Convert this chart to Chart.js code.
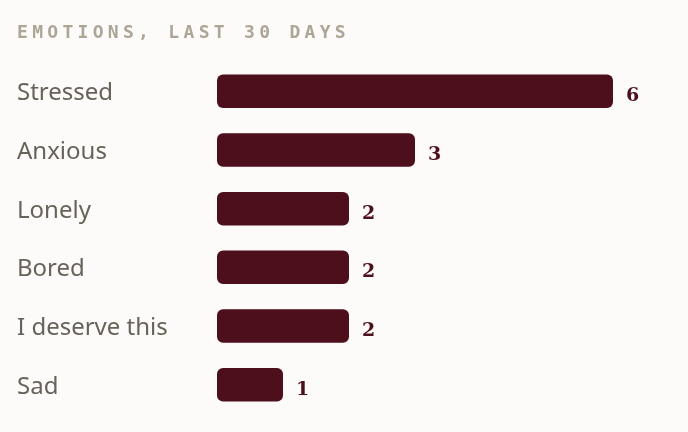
<!DOCTYPE html>
<html>
<head>
<meta charset="utf-8">
<script src="https://cdn.jsdelivr.net/npm/chart.js@4"></script>
<style>
  html, body { margin: 0; padding: 0; background: #fdfbf9; }
  #wrap { position: relative; width: 688px; height: 432px; }
  #title {
    position: absolute; left: 17px; top: 21px;
    font-family: "DejaVu Sans Mono", monospace; font-weight: bold;
    font-size: 18px; letter-spacing: 4.3px; color: #ada596;
  }
</style>
</head>
<body>
<div id="wrap">
  <div id="title">EMOTIONS, LAST 30 DAYS</div>
  <canvas id="myChart" width="688" height="432"></canvas>
</div>
<script>
var emotions = ['Stressed', 'Anxious', 'Lonely', 'Bored', 'I deserve this', 'Sad'];
var counts = [6, 3, 2, 2, 2, 1];

var barColor = '#4d0f1c';

// draws the count just right of each bar
var valueLabels = {
    id: 'valueLabels',
    afterDatasetsDraw: function (chart) {
        var ctx = chart.ctx;
        var meta = chart.getDatasetMeta(0);
        ctx.save();
        ctx.fillStyle = barColor;
        ctx.font = 'bold 19px "DejaVu Serif", serif';
        ctx.textAlign = 'left';
        ctx.textBaseline = 'alphabetic';
        meta.data.forEach(function (bar, i) {
            ctx.fillText(String(counts[i]), bar.x + 13, bar.y + 10);
        });
        ctx.restore();
    }
};

function renderChart(data, labels) {
    var ctx = document.getElementById('myChart').getContext('2d');
    return new Chart(ctx, {
        type: 'bar',
        data: {
            labels: labels,
            datasets: [{
                data: data,
                backgroundColor: barColor,
                borderRadius: 6,
                borderSkipped: false,
                barPercentage: 0.57,
                categoryPercentage: 1
            }]
        },
        options: {
            indexAxis: 'y',
            responsive: false,
            animation: false,
            layout: { padding: { left: 17, right: 75, top: 62, bottom: 18 } },
            plugins: {
                legend: { display: false },
                tooltip: { enabled: false }
            },
            scales: {
                x: { display: false, min: 0, max: 6 },
                y: {
                    grid: { display: false, drawTicks: false },
                    border: { display: false },
                    afterFit: function (scale) { scale.width = 200; },
                    ticks: {
                        crossAlign: 'far',
                        padding: 0,
                        labelOffset: 2,
                        color: '#67625a',
                        font: { family: '"Noto Sans", sans-serif', size: 24 }
                    }
                }
            }
        },
        plugins: [valueLabels]
    });
}

renderChart(counts, emotions);
</script>
</body>
</html>
